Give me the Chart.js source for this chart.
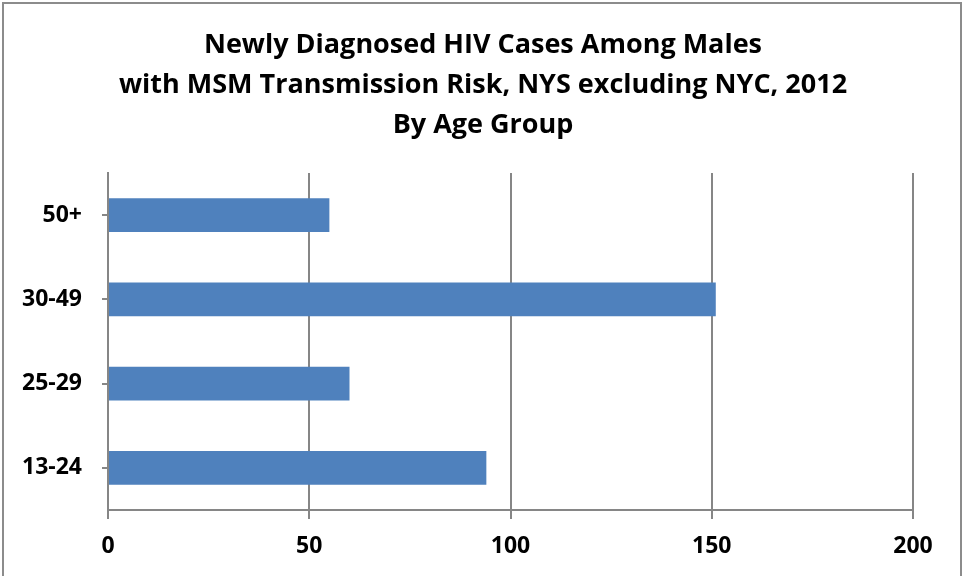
<!DOCTYPE html>
<html lang="en">
<head>
    <meta charset="UTF-8">
    <title>Newly Diagnosed HIV Cases Among Males</title>
    <script src="https://cdn.jsdelivr.net/npm/chart.js"></script>
    <style>
        html, body { margin: 0; padding: 0; background: #fff; overflow: hidden; }
        #moldura {
            position: absolute; left: 2px; top: 2px; width: 960px; height: 600px;
            border: 2px solid #8c8c8c; box-sizing: border-box;
        }
        #grafico { position: absolute; left: 0; top: 0; width: 966px; height: 576px; }
    </style>
</head>
<body>
    <div id="moldura"></div>
    <div id="grafico">
        <canvas id="myChart" width="966" height="576"></canvas>
    </div>

<script>
// dados
const faixasEtarias = ['50+', '30-49', '25-29', '13-24'];
const casos = [55, 151, 60, 94];
const titulo = [
    'Newly Diagnosed HIV Cases Among Males',
    'with MSM Transmission Risk, NYS excluding NYC, 2012',
    'By Age Group'
];

const corLinha = '#868686';
const fonte = "'Open Sans', 'Liberation Sans', sans-serif";

const config = {
    type: 'bar',
    data: {
        labels: faixasEtarias,
        datasets: [{
            data: casos,
            backgroundColor: '#4F81BD',
            categoryPercentage: 0.4,
            barPercentage: 1.0
        }]
    },
    options: {
        indexAxis: 'y',
        responsive: false,
        animation: false,
        plugins: {
            legend: { display: false },
            tooltip: { enabled: false },
            title: {
                display: true,
                text: titulo,
                color: '#000',
                font: { family: fonte, size: 27, weight: 'bold', lineHeight: 40 / 27 },
                padding: { top: 25, bottom: 28 }
            }
        },
        scales: {
            x: {
                min: 0,
                max: 200,
                ticks: { stepSize: 50, color: '#000', padding: 14,
                    font: { family: fonte, size: 23, weight: 'bold' } },
                grid: { color: corLinha, lineWidth: 2, tickLength: 9 },
                border: { color: corLinha, width: 2 },
                afterFit: function (scale) { scale.height = 66; }
            },
            y: {
                ticks: { color: '#000', padding: 20,
                    font: { family: fonte, size: 23, weight: 'bold' } },
                grid: { display: true, offset: false, drawOnChartArea: false,
                    color: corLinha, lineWidth: 2, tickLength: 6 },
                border: { color: corLinha, width: 2 },
                afterFit: function (scale) { scale.width = 108; }
            },
            // eixo vazio so para reservar a margem da direita
            direita: {
                type: 'category',
                position: 'right',
                ticks: { display: false },
                grid: { display: false },
                border: { display: false },
                afterFit: function (scale) { scale.width = 53; }
            }
        }
    }
};

let myChart = new Chart(document.getElementById('myChart'), config);
</script>
</body>
</html>
